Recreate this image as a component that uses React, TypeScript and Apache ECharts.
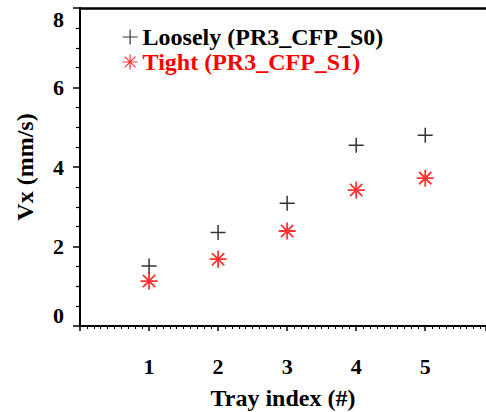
import React, { useEffect, useRef } from "react";
import * as echarts from "echarts";

const trayIndex = [1, 2, 3, 4, 5];
const looselyVx = [1.51, 2.35, 3.09, 4.55, 4.8];
const tightVx = [1.13, 1.68, 2.39, 3.42, 3.72];
const seriesNames = ["Loosely (PR3_CFP_S0)", "Tight (PR3_CFP_S1)"];
const xTickLabels = ["1", "2", "3", "4", "5"];
const xMax = 5.88;

const PLUS = "path://M0,-1 L0,1 M-1,0 L1,0";
const STAR =
  "path://M0,-1 L0,1 M-1,0 L1,0 M-0.72,-0.72 L0.72,0.72 M-0.72,0.72 L0.72,-0.72";

const FONT = "'Liberation Serif', 'Times New Roman', serif";

export default function App() {
  const ref = useRef<HTMLDivElement>(null);
  useEffect(() => {
    if (!ref.current) return;
    const chart = echarts.init(ref.current, null, { renderer: "svg" });
    chart.setOption({
      animation: false,
      backgroundColor: "#fff",
      grid: {
        left: 80,
        top: 8,
        right: 0,
        bottom: 86,
        outerBoundsMode: "none",
      },
      legend: {
        orient: "vertical",
        left: 122,
        top: 25,
        padding: 0,
        itemWidth: 15,
        itemHeight: 15,
        itemGap: 1,
        textStyle: { fontFamily: FONT, fontWeight: "bold", fontSize: 24 },
        data: [
          {
            name: seriesNames[0],
            icon: PLUS,
            itemStyle: { color: "transparent", borderColor: "#000", borderWidth: 1.2 },
            textStyle: { color: "#000" },
          },
          {
            name: seriesNames[1],
            icon: STAR,
            itemStyle: { color: "transparent", borderColor: "#ff0000", borderWidth: 1.2 },
            textStyle: { color: "#ff0000" },
          },
        ],
      },
      xAxis: [
        {
          type: "value",
          min: 0,
          max: xMax,
          interval: 1,
          name: "Tray index (#)",
          nameLocation: "middle",
          nameGap: 60,
          nameTextStyle: { fontFamily: FONT, fontWeight: "bold", fontSize: 24, color: "#000" },
          axisLine: { show: true, onZero: false, lineStyle: { color: "#000", width: 2 } },
          axisTick: { show: true, length: 5, lineStyle: { color: "#000", width: 1.5 } },
          minorTick: { show: true, splitNumber: 10, length: 3, lineStyle: { color: "#000", width: 1 } },
          splitLine: { show: false },
          axisLabel: {
            margin: 29,
            fontFamily: FONT,
            fontWeight: "bold",
            fontSize: 22,
            color: "#000",
            formatter: (v: number) =>
              Number.isInteger(v) && v >= 1 && v <= 5 ? xTickLabels[v - 1] : "",
          },
        },
        {
          type: "value",
          position: "top",
          min: 0,
          max: xMax,
          interval: 1,
          axisLine: { show: true, onZero: false, lineStyle: { color: "#000", width: 2.5 } },
          axisTick: { show: false },
          minorTick: { show: false },
          axisLabel: { show: false },
          splitLine: { show: false },
        },
      ],
      yAxis: {
        type: "value",
        min: 0,
        max: 8,
        interval: 2,
        name: "Vx (mm/s)",
        nameLocation: "middle",
        nameGap: 43,
        nameTextStyle: { fontFamily: FONT, fontWeight: "bold", fontSize: 24, color: "#000" },
        axisLine: { show: true, onZero: false, lineStyle: { color: "#000", width: 2 } },
        axisTick: { show: true, length: 7, lineStyle: { color: "#000", width: 1.5 } },
        minorTick: { show: true, splitNumber: 4, length: 4, lineStyle: { color: "#000", width: 1.2 } },
        splitLine: { show: false },
        axisLabel: {
          margin: 16,
          fontFamily: FONT,
          fontWeight: "bold",
          fontSize: 22,
          color: "#000",
          verticalAlignMaxLabel: "top",
          verticalAlignMinLabel: "bottom",
        },
      },
      series: [
        {
          name: seriesNames[0],
          type: "scatter",
          symbol: PLUS,
          symbolSize: 15,
          itemStyle: { color: "transparent", borderColor: "#000", borderWidth: 1.5 },
          data: trayIndex.map((x, i) => [x, looselyVx[i]]),
        },
        {
          name: seriesNames[1],
          type: "scatter",
          symbol: STAR,
          symbolSize: 17,
          itemStyle: { color: "transparent", borderColor: "#ff0000", borderWidth: 1.8 },
          data: trayIndex.map((x, i) => [x, tightVx[i]]),
        },
      ],
    });
    return () => chart.dispose();
  }, []);
  return (
    <div
      ref={ref}
      style={{ position: "fixed", left: 0, top: 0, width: 486, height: 412 }}
    />
  );
}
